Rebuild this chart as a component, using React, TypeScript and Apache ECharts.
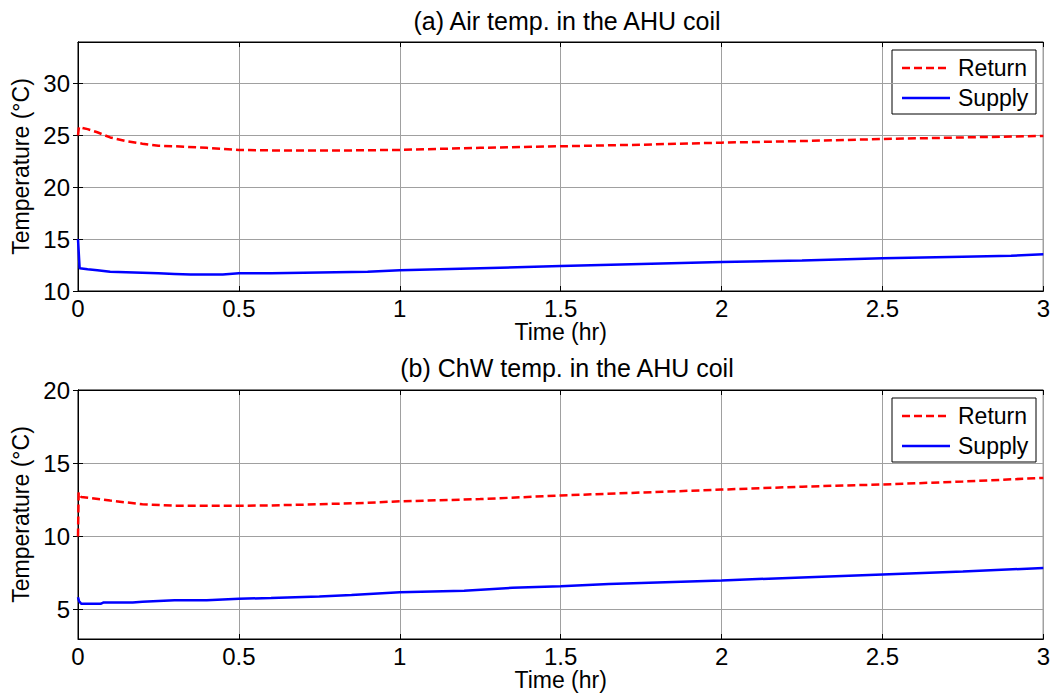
import React, { useEffect, useRef } from "react";
import * as echarts from "echarts";

// ---- data ----
const airReturnX = [0, 0.003, 0.03, 0.06, 0.1, 0.15, 0.2, 0.25, 0.3, 0.4, 0.5, 0.6, 0.7, 0.85, 1.0, 1.25, 1.5, 1.75, 2.0, 2.25, 2.5, 2.75, 3.0];
const airReturnY = [25.0, 25.8, 25.6, 25.3, 24.8, 24.45, 24.2, 24.0, 23.95, 23.8, 23.6, 23.55, 23.55, 23.55, 23.6, 23.8, 23.95, 24.1, 24.3, 24.45, 24.65, 24.8, 24.95];

const airSupplyX = [0, 0.005, 0.03, 0.06, 0.1, 0.15, 0.2, 0.25, 0.3, 0.35, 0.45, 0.5, 0.6, 0.7, 0.8, 0.9, 1.0, 1.25, 1.5, 1.75, 2.0, 2.25, 2.5, 2.75, 2.9, 3.0];
const airSupplyY = [15.0, 12.2, 12.1, 12.0, 11.85, 11.8, 11.75, 11.7, 11.65, 11.6, 11.6, 11.7, 11.7, 11.75, 11.8, 11.85, 12.0, 12.2, 12.4, 12.6, 12.8, 12.95, 13.15, 13.3, 13.4, 13.55];

const chwReturnX = [0, 0.002, 0.01, 0.05, 0.1, 0.2, 0.3, 0.4, 0.5, 0.6, 0.75, 0.9, 1.0, 1.25, 1.5, 1.75, 2.0, 2.25, 2.5, 2.75, 3.0];
const chwReturnY = [10.0, 13.0, 12.7, 12.6, 12.45, 12.2, 12.1, 12.1, 12.1, 12.12, 12.2, 12.3, 12.4, 12.55, 12.8, 13.0, 13.2, 13.4, 13.55, 13.75, 14.0];

const chwSupplyX = [0, 0.003, 0.01, 0.07, 0.08, 0.17, 0.2, 0.3, 0.4, 0.5, 0.6, 0.75, 0.85, 1.0, 1.2, 1.35, 1.5, 1.65, 2.0, 2.25, 2.5, 2.75, 3.0];
const chwSupplyY = [5.85, 5.6, 5.4, 5.4, 5.5, 5.5, 5.55, 5.65, 5.65, 5.75, 5.8, 5.9, 6.0, 6.2, 6.3, 6.5, 6.6, 6.75, 7.0, 7.2, 7.4, 7.6, 7.85];

const xTicks = [0, 0.5, 1, 1.5, 2, 2.5, 3];
const airYTicks = [10, 15, 20, 25, 30];
const chwYTicks = [5, 10, 15, 20];
const seriesNames = ["Return", "Supply"];
const titles = ["(a) Air temp. in the AHU coil", "(b) ChW temp. in the AHU coil"];
const xName = "Time (hr)";
const yName = "Temperature (\u00B0C)";

const zip = (xs: number[], ys: number[]) => xs.map((x, i) => [x, ys[i]]);

const FONT = "Liberation Sans, Arial, sans-serif";
const RED = "#ff0000";
const BLUE = "#0000ff";
const DASH = [8, 4];

export default function App() {
  const ref = useRef<HTMLDivElement>(null);
  useEffect(() => {
    document.body.style.margin = "0";
    const chart = echarts.init(ref.current!, null, { renderer: "svg" });

    const grids = [
      { left: 78, top: 42, width: 966, height: 249, yMin: 10, yMax: 34, yTicks: airYTicks, legendTop: 50, titleY: 21 },
      { left: 78, top: 390, width: 966, height: 249, yMin: 3, yMax: 20, yTicks: chwYTicks, legendTop: 398, titleY: 368 },
    ];

    const xAxes: any[] = [];
    const yAxes: any[] = [];
    grids.forEach((g, i) => {
      xAxes.push({
        type: "value", gridIndex: i, position: "bottom", min: 0, max: 3,
        name: xName, nameLocation: "middle", nameGap: 29,
        nameTextStyle: { color: "#000", fontSize: 23, fontFamily: FONT },
        axisLine: { show: true, lineStyle: { color: "#000", width: 1 } },
        axisTick: { show: true, inside: true, length: 5, lineStyle: { color: "#000" }, customValues: xTicks },
        axisLabel: { color: "#000", fontSize: 24, fontFamily: FONT, margin: 5, customValues: xTicks },
        splitLine: { show: true, lineStyle: { color: "#a0a0a0", width: 1 } },
      });
      xAxes.push({
        type: "value", gridIndex: i, position: "top", min: 0, max: 3,
        axisLine: { show: true, lineStyle: { color: "#000", width: 1 } },
        axisTick: { show: true, inside: true, length: 5, lineStyle: { color: "#000" }, customValues: xTicks },
        axisLabel: { show: false },
        splitLine: { show: false },
      });
      yAxes.push({
        type: "value", gridIndex: i, position: "left", min: g.yMin, max: g.yMax,
        name: yName, nameLocation: "middle", nameGap: 44,
        nameTextStyle: { color: "#000", fontSize: 23, fontFamily: FONT },
        axisLine: { show: true, lineStyle: { color: "#000", width: 1 } },
        axisTick: { show: true, inside: true, length: 5, lineStyle: { color: "#000" }, customValues: g.yTicks },
        axisLabel: { color: "#000", fontSize: 24, fontFamily: FONT, margin: 8, customValues: g.yTicks },
        splitLine: { show: true, lineStyle: { color: "#a0a0a0", width: 1 } },
      });
      yAxes.push({
        type: "value", gridIndex: i, position: "right", min: g.yMin, max: g.yMax,
        axisLine: { show: true, lineStyle: { color: "#000", width: 1 } },
        axisTick: { show: true, inside: true, length: 5, lineStyle: { color: "#000" }, customValues: g.yTicks },
        axisLabel: { show: false },
        splitLine: { show: false },
      });
    });

    const mk = (name: string, idx: number, data: number[][], dashed: boolean) => ({
      type: "line", name, xAxisIndex: idx * 2, yAxisIndex: idx * 2, data,
      showSymbol: false, symbol: "none",
      lineStyle: dashed ? { color: RED, width: 2.5, type: DASH } : { color: BLUE, width: 2.5 },
      itemStyle: { color: dashed ? RED : BLUE },
      z: dashed ? 3 : 2,
    });

    const graphics: any[] = [];
    grids.forEach((g, i) => {
      graphics.push({
        type: "text", x: 567, y: g.titleY, z: 100,
        style: { text: titles[i], fill: "#000", font: `25px ${FONT}`, textAlign: "center", textVerticalAlign: "middle" },
      });
      const lx = 892, ly = g.legendTop;
      graphics.push({
        type: "group", z: 100,
        children: [
          { type: "rect", shape: { x: lx, y: ly, width: 144, height: 64 }, style: { fill: "#fff", stroke: "#000", lineWidth: 1 } },
          { type: "line", shape: { x1: lx + 10, y1: ly + 18, x2: lx + 58, y2: ly + 18 }, style: { stroke: RED, lineWidth: 2.5, lineDash: DASH } },
          { type: "text", x: lx + 66, y: ly + 18, style: { text: seriesNames[0], fill: "#000", font: `23px ${FONT}`, textVerticalAlign: "middle" } },
          { type: "line", shape: { x1: lx + 10, y1: ly + 48, x2: lx + 58, y2: ly + 48 }, style: { stroke: BLUE, lineWidth: 2.5 } },
          { type: "text", x: lx + 66, y: ly + 48, style: { text: seriesNames[1], fill: "#000", font: `23px ${FONT}`, textVerticalAlign: "middle" } },
        ],
      });
    });

    chart.setOption({
      animation: false,
      backgroundColor: "#fff",
      grid: grids.map((g) => ({ left: g.left, top: g.top, width: g.width, height: g.height, show: true, borderColor: "#000", borderWidth: 1, backgroundColor: "transparent" })),
      xAxis: xAxes,
      yAxis: yAxes,
      series: [
        mk(seriesNames[0], 0, zip(airReturnX, airReturnY), true),
        mk(seriesNames[1], 0, zip(airSupplyX, airSupplyY), false),
        mk(seriesNames[0], 1, zip(chwReturnX, chwReturnY), true),
        mk(seriesNames[1], 1, zip(chwSupplyX, chwSupplyY), false),
      ],
      graphic: graphics,
    });
    return () => chart.dispose();
  }, []);
  return <div ref={ref} style={{ width: 1053, height: 698 }} />;
}
